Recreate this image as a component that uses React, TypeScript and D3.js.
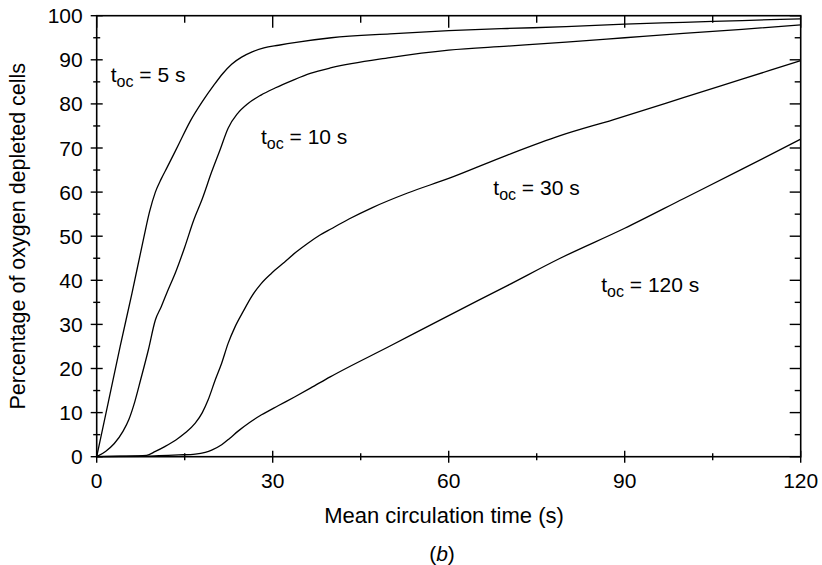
import { useEffect, useRef } from 'react';
import * as d3 from 'd3';

// [mean circulation time (s), % oxygen depleted cells]
const toc5 = [
    [0, 0], [2, 12.5], [4, 25], [6, 37], [8, 49.5], [9, 55.5], [10, 60], [11, 63],
    [12, 65.6], [14, 70.9], [16, 76.2], [18, 80.5], [20, 84.3], [21.5, 86.9], [23, 89],
    [24.7, 90.6], [26.5, 91.8], [28.5, 92.7], [31, 93.3], [34, 93.95], [40, 95],
    [50, 95.9], [60, 96.6], [70, 97.1], [80, 97.5], [90, 98.1], [100, 98.5],
    [110, 98.9], [120, 99.3],
];
const toc10 = [
    [0, 0], [1.5, 1.2], [3, 3], [4.5, 5.8], [5.5, 8.5], [6.5, 12.5], [7.5, 17.5],
    [8.8, 24.2], [10, 31], [11, 34], [12, 37.3], [13.5, 42], [15, 47.5], [16.5, 53.5],
    [18, 58.5], [19.6, 64.6], [21, 69.5], [22.4, 74.5], [24, 77.8], [25.8, 80.1],
    [28, 82], [30.4, 83.6], [33.5, 85.4], [36.4, 86.9], [40, 88.2], [50, 90.5],
    [60, 92.2], [70, 93.1], [80, 94], [90, 95], [100, 96], [110, 96.9], [120, 97.9],
];
const toc30 = [
    [0, 0], [4, 0.1], [8.5, 0.3], [10, 1.2], [11.6, 2.3], [13.5, 3.8], [15, 5.3],
    [16.8, 7.6], [18, 10], [19, 12.9], [20.2, 17.4], [21.3, 21.2], [22.4, 25.7],
    [23.6, 29.5], [25, 33], [26.4, 36.3], [28, 39.2], [29.8, 41.6], [32, 44.1],
    [34, 46.4], [36, 48.4], [38, 50.2], [40, 51.7], [43, 53.9], [47, 56.5], [53, 59.8],
    [60, 63.1], [70, 68.4], [79, 72.8], [88, 76.4], [100, 81.4], [110, 85.6], [120, 89.8],
];
const toc120 = [
    [0, 0], [8, 0.1], [14, 0.4], [16.8, 0.6], [18.5, 1], [19.6, 1.5], [21.3, 2.7],
    [22.7, 4.2], [24.1, 5.8], [26, 7.7], [28.1, 9.5], [31, 11.6], [33.8, 13.6],
    [36.5, 15.6], [39.8, 18.1], [50, 25.1], [60, 32], [70, 38.8], [79, 45],
    [90, 51.8], [100, 58.5], [110, 65.2], [120, 72],
];

const seriesNames = ['5', '10', '30', '120'];
const seriesData = [toc5, toc10, toc30, toc120];
// label anchor: [time, percent] where the label baseline starts
const labelPos = [[2.4, 85], [28, 70.9], [67.6, 59.4], [86, 37.4]];

const xMajor = [0, 30, 60, 90, 120];
const xMinor = [15, 45, 75, 105];
const yMajor = [0, 10, 20, 30, 40, 50, 60, 70, 80, 90, 100];
const yMinor = [5, 15, 25, 35, 45, 55, 65, 75, 85, 95];

const xTitle = 'Mean circulation time (s)';
const yTitle = 'Percentage of oxygen depleted cells';

const App = () => {
    const svgRef = useRef(null);
    const width = 822;
    const height = 565;
    const margins = { top: 15.7, right: 21.3, bottom: 108.3, left: 96.7 };
    const font = '"Liberation Sans", Arial, Helvetica, sans-serif';

    useEffect(() => {
        const svg = d3.select(svgRef.current);
        svg.selectAll('*').remove();

        const x = d3.scaleLinear().domain([0, 120]).range([margins.left, width - margins.right]);
        const y = d3.scaleLinear().domain([0, 100]).range([height - margins.bottom, margins.top]);
        const x0 = x(0), x1 = x(120), y0 = y(0), y1 = y(100);

        const g = svg.append('g').attr('stroke', '#000').attr('stroke-width', 1.4);

        // frame
        g.append('rect')
            .attr('x', x0).attr('y', y1)
            .attr('width', x1 - x0).attr('height', y0 - y1)
            .attr('fill', 'none').attr('stroke-width', 1.6);

        // bottom ticks cross the axis, top ticks hang inward
        g.selectAll('.xmaj').data(xMajor).join('line')
            .attr('x1', d => x(d)).attr('x2', d => x(d))
            .attr('y1', y0 - 6).attr('y2', y0 + 6);
        g.selectAll('.xmin').data(xMinor).join('line')
            .attr('x1', d => x(d)).attr('x2', d => x(d))
            .attr('y1', y0 - 3.5).attr('y2', y0 + 3.5);
        g.selectAll('.xmajt').data(xMajor).join('line')
            .attr('x1', d => x(d)).attr('x2', d => x(d))
            .attr('y1', y1).attr('y2', y1 + 12);
        g.selectAll('.xmint').data(xMinor).join('line')
            .attr('x1', d => x(d)).attr('x2', d => x(d))
            .attr('y1', y1).attr('y2', y1 + 7);

        // left ticks cross, right ticks inward
        g.selectAll('.ymaj').data(yMajor).join('line')
            .attr('x1', x0 - 6).attr('x2', x0 + 6)
            .attr('y1', d => y(d)).attr('y2', d => y(d));
        g.selectAll('.ymin').data(yMinor).join('line')
            .attr('x1', x0 - 3.5).attr('x2', x0 + 3.5)
            .attr('y1', d => y(d)).attr('y2', d => y(d));
        g.selectAll('.ymajr').data(yMajor).join('line')
            .attr('x1', x1 - 11).attr('x2', x1)
            .attr('y1', d => y(d)).attr('y2', d => y(d));
        g.selectAll('.yminr').data(yMinor).join('line')
            .attr('x1', x1 - 6).attr('x2', x1)
            .attr('y1', d => y(d)).attr('y2', d => y(d));

        const t = svg.append('g').attr('font-family', font).attr('fill', '#000');

        t.selectAll('.xl').data(xMajor).join('text')
            .attr('x', d => x(d)).attr('y', y0 + 31)
            .attr('text-anchor', 'middle').attr('font-size', 21)
            .text(d => d);
        t.selectAll('.yl').data(yMajor).join('text')
            .attr('x', x0 - 14).attr('y', d => y(d) + 7.5)
            .attr('text-anchor', 'end').attr('font-size', 21)
            .text(d => d);

        t.append('text')
            .attr('x', 444).attr('y', 523)
            .attr('text-anchor', 'middle').attr('font-size', 22)
            .text(xTitle);
        t.append('text')
            .attr('transform', `translate(25,${(y0 + y1) / 2}) rotate(-90)`)
            .attr('text-anchor', 'middle').attr('font-size', 21.5)
            .text(yTitle);
        const cap = t.append('text')
            .attr('x', 442).attr('y', 561)
            .attr('text-anchor', 'middle').attr('font-size', 21);
        cap.append('tspan').text('(');
        cap.append('tspan').attr('font-style', 'italic').text('b');
        cap.append('tspan').text(')');

        // curves
        const line = d3.line()
            .x(d => x(d[0]))
            .y(d => y(d[1]))
            .curve(d3.curveMonotoneX);

        svg.append('g')
            .selectAll('path')
            .data(seriesData)
            .join('path')
            .attr('d', d => line(d))
            .attr('fill', 'none')
            .attr('stroke', '#000')
            .attr('stroke-width', 1.3);

        // curve labels
        seriesNames.forEach((name, i) => {
            const lbl = t.append('text')
                .attr('x', x(labelPos[i][0])).attr('y', y(labelPos[i][1]))
                .attr('font-size', 21);
            lbl.append('tspan').text('t');
            lbl.append('tspan').attr('dy', 5).attr('font-size', 16).text('oc');
            lbl.append('tspan').attr('dy', -5).text(' = ' + name + ' s');
        });
    }, []);

    return (
        <svg
            ref={svgRef}
            width={width}
            height={height}
            style={{ position: 'absolute', left: 0, top: 0, background: '#fff' }}
        ></svg>
    );
};

export default App;
